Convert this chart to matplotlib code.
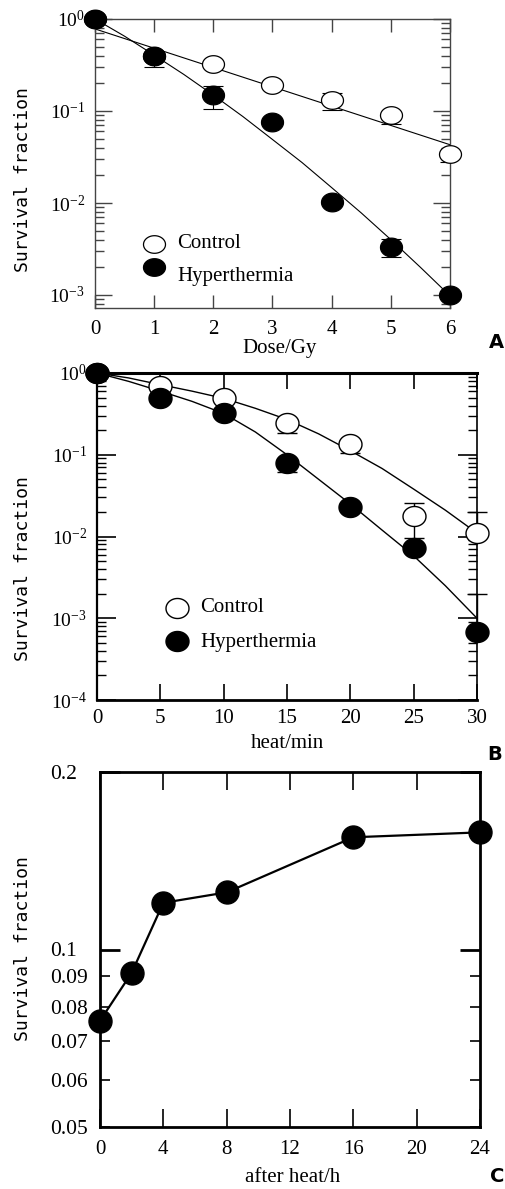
import numpy as np
import matplotlib
matplotlib.use("Agg")
import matplotlib.pyplot as plt
from matplotlib.path import Path
from matplotlib.ticker import FixedLocator, FixedFormatter, NullFormatter

# ---- panel A: dose response ----
dose = [0, 1, 2, 3, 4, 5, 6]
a_ctrl = [1.0, 0.40, 0.324, 0.19, 0.132, 0.0905, 0.034]
a_ctrl_lo = [1.0, 0.40, 0.324, 0.19, 0.102, 0.072, 0.028]
a_ctrl_hi = [1.0, 0.40, 0.324, 0.19, 0.157, 0.0905, 0.034]
a_hyp = [1.0, 0.40, 0.149, 0.076, 0.0102, 0.0033, 0.001]
a_hyp_lo = [1.0, 0.30, 0.105, 0.076, 0.0102, 0.0026, 0.001]
a_hyp_hi = [1.0, 0.40, 0.187, 0.076, 0.0102, 0.0041, 0.001]
a_ctrl_fit_x = [0, 6]
a_ctrl_fit = [0.78, 0.043]
a_hyp_fit_x = [0, 0.5, 1, 1.5, 2, 2.5, 3, 3.5, 4, 4.5, 5, 5.5, 6]
a_hyp_fit = [1.0, 0.65, 0.405, 0.25, 0.149, 0.087, 0.049, 0.0275, 0.0147,
             0.0078, 0.0040, 0.0020, 0.00098]

# ---- panel B: heat time ----
heat = [0, 5, 10, 15, 20, 25, 30]
b_ctrl = [1.0, 0.69, 0.49, 0.245, 0.135, 0.018, 0.011]
b_ctrl_lo = [1.0, 0.69, 0.49, 0.185, 0.105, 0.0096, 0.011]
b_ctrl_hi = [1.0, 0.69, 0.49, 0.245, 0.135, 0.026, 0.020]
b_hyp = [1.0, 0.50, 0.32, 0.08, 0.023, 0.0072, 0.00068]
b_hyp_lo = [1.0, 0.50, 0.32, 0.062, 0.023, 0.0072, 0.00068]
b_hyp_hi = [1.0, 0.50, 0.32, 0.08, 0.023, 0.0072, 0.002]
b_fit_x = [0, 2.5, 5, 7.5, 10, 12.5, 15, 17.5, 20, 22.5, 25, 27.5, 30]
b_ctrl_fit = [1.0, 0.87, 0.72, 0.60, 0.49, 0.37, 0.27, 0.18, 0.112, 0.068,
              0.038, 0.021, 0.011]
b_hyp_fit = [1.0, 0.79, 0.60, 0.45, 0.32, 0.19, 0.10, 0.050, 0.025, 0.012,
             0.0058, 0.0025, 0.001]

# ---- panel C: recovery after heat ----
after = [0, 2, 4, 8, 16, 24]
c_sf = [0.0757, 0.0913, 0.120, 0.125, 0.155, 0.158]

a_yticks = [1, 0.1, 0.01, 0.001]
a_ylabels = ['$\\mathregular{10^{0}}$', '$\\mathregular{10^{-1}}$',
             '$\\mathregular{10^{-2}}$', '$\\mathregular{10^{-3}}$']
b_yticks = [1, 0.1, 0.01, 0.001, 0.0001]
b_ylabels = a_ylabels + ['$\\mathregular{10^{-4}}$']
c_major = [0.1, 0.2]
c_major_labels = ['0.1', '0.2']
c_minor = [0.05, 0.06, 0.07, 0.08, 0.09]
c_minor_labels = ['0.05', '0.06', '0.07', '0.08', '0.09']

W, H = 506, 1189
plt.rcParams['font.family'] = 'Liberation Serif'
plt.rcParams['mathtext.fontset'] = 'custom'
plt.rcParams['mathtext.rm'] = 'Liberation Serif'

fig = plt.figure(figsize=(W / 100, H / 100), dpi=100)


def box(l, t, r, b):
    return [l / W, 1 - b / H, (r - l) / W, (b - t) / H]


def ellipse(aspect):
    th = np.linspace(0, 2 * np.pi, 80)
    return Path(np.column_stack([np.cos(th), aspect * np.sin(th)]))


def px(p):
    return p * 0.72


def logminors(lo, hi):
    out = []
    for e in range(lo, hi):
        for m in range(2, 10):
            out.append(m * 10.0 ** e)
    return out


def ftext(x, y, s, **kw):
    fig.text(x / W, 1 - y / H, s, **kw)


def fmarker(x, y, mk, ms, fc, mew):
    fig.lines.append(plt.Line2D([x / W], [1 - y / H], transform=fig.transFigure,
                                ls='none', marker=mk, ms=ms, mfc=fc, mec='black', mew=mew))


# ================= A =================
ax = fig.add_axes(box(95, 19, 450, 308))
ax.set_yscale('log')
ax.set_xlim(0, 6)
ax.set_ylim(10 ** (-3 - 13 / 92), 1.0)
ax.plot(a_ctrl_fit_x, a_ctrl_fit, color='black', lw=0.8, zorder=2)
ax.plot(a_hyp_fit_x, a_hyp_fit, color='black', lw=0.8, zorder=2)
ell_a = ellipse(0.8)
ax.errorbar(dose, a_ctrl,
            yerr=[np.array(a_ctrl) - np.array(a_ctrl_lo), np.array(a_ctrl_hi) - np.array(a_ctrl)],
            fmt='none', ecolor='black', elinewidth=0.8, capsize=px(10), capthick=0.8, zorder=3)
ax.errorbar(dose, a_hyp,
            yerr=[np.array(a_hyp) - np.array(a_hyp_lo), np.array(a_hyp_hi) - np.array(a_hyp)],
            fmt='none', ecolor='black', elinewidth=0.8, capsize=px(10), capthick=0.8, zorder=3)
ax.plot(dose, a_ctrl, ls='none', marker=ell_a, ms=px(22), mfc='white', mec='black',
        mew=0.9, zorder=4, clip_on=False)
ax.plot(dose, a_hyp, ls='none', marker=ellipse(0.85), ms=px(22), mfc='black', mec='black',
        mew=0.9, zorder=5, clip_on=False)
ax.set_xticks(dose)
ax.set_xticklabels([str(d) for d in dose], fontsize=15)
ax.yaxis.set_major_locator(FixedLocator(a_yticks))
ax.yaxis.set_major_formatter(FixedFormatter(a_ylabels))
ax.yaxis.set_minor_locator(FixedLocator(logminors(-4, 0)))
ax.yaxis.set_minor_formatter(NullFormatter())
for s in ax.spines.values():
    s.set_color('#444444')
    s.set_linewidth(1.0)
ax.tick_params(axis='y', which='major', direction='in', length=px(17), width=1.0,
               color='#444444', left=True, right=True, labelsize=14, pad=px(10))
ax.tick_params(axis='y', which='minor', direction='in', length=px(9), width=1.0,
               color='#444444', left=True, right=True)
ax.tick_params(axis='x', which='major', direction='in', length=px(13), width=1.0,
               color='#444444', top=True, bottom=True, pad=px(12))
fmarker(154, 244, ell_a, px(22), 'white', 0.9)
fmarker(154, 267, ell_a, px(22), 'black', 0.9)
ftext(177, 244, 'Control', fontsize=15, va='center', ha='left')
ftext(177, 276, 'Hyperthermia', fontsize=15, va='center', ha='left')
ftext(280, 348, 'Dose/Gy', fontsize=15, va='center', ha='center')
ftext(23, 180, 'Survival fraction', rotation=90, family='DejaVu Sans Mono',
      fontsize=13, va='center', ha='center')
ftext(489, 343, 'A', family='DejaVu Sans', weight='bold', fontsize=14, va='center', ha='left')

# ================= B =================
bx = fig.add_axes(box(97, 373, 477, 700))
bx.set_yscale('log')
bx.set_xlim(0, 30)
bx.set_ylim(1e-4, 1.0)
bx.plot(b_fit_x, b_ctrl_fit, color='black', lw=1.0, zorder=2)
bx.plot(b_fit_x, b_hyp_fit, color='black', lw=1.0, zorder=2)
ell_b = ellipse(0.87)
bx.errorbar(heat, b_ctrl,
            yerr=[np.array(b_ctrl) - np.array(b_ctrl_lo), np.array(b_ctrl_hi) - np.array(b_ctrl)],
            fmt='none', ecolor='black', elinewidth=1.0, capsize=px(10), capthick=1.0,
            zorder=3, clip_on=False)
bx.errorbar(heat, b_hyp,
            yerr=[np.array(b_hyp) - np.array(b_hyp_lo), np.array(b_hyp_hi) - np.array(b_hyp)],
            fmt='none', ecolor='black', elinewidth=1.0, capsize=px(10), capthick=1.0,
            zorder=3, clip_on=False)
bx.plot(heat, b_ctrl, ls='none', marker=ell_b, ms=px(23), mfc='white', mec='black',
        mew=1.0, zorder=4, clip_on=False)
bx.plot(heat, b_hyp, ls='none', marker=ell_b, ms=px(23), mfc='black', mec='black',
        mew=1.0, zorder=5, clip_on=False)
bx.set_xticks(heat)
bx.set_xticklabels([str(h) for h in heat], fontsize=15)
bx.yaxis.set_major_locator(FixedLocator(b_yticks))
bx.yaxis.set_major_formatter(FixedFormatter(b_ylabels))
bx.yaxis.set_minor_locator(FixedLocator(logminors(-4, 0)))
bx.yaxis.set_minor_formatter(NullFormatter())
bx.spines['top'].set_linewidth(2.2)
bx.spines['bottom'].set_linewidth(2.0)
bx.spines['left'].set_linewidth(1.6)
bx.spines['right'].set_linewidth(1.2)
bx.tick_params(axis='y', which='major', direction='in', length=px(19), width=1.2,
               left=True, right=True, labelsize=14, pad=px(10))
bx.tick_params(axis='y', which='minor', direction='in', length=px(9), width=1.0,
               left=True, right=True)
bx.tick_params(axis='x', which='major', direction='in', length=px(16), width=1.2,
               top=True, bottom=True, pad=px(9))
fmarker(177, 608, ell_b, px(23), 'white', 1.0)
fmarker(177, 641, ell_b, px(23), 'black', 1.0)
ftext(200, 608, 'Control', fontsize=15, va='center', ha='left')
ftext(200, 643, 'Hyperthermia', fontsize=15, va='center', ha='left')
ftext(287, 743, 'heat/min', fontsize=15, va='center', ha='center')
ftext(23, 569, 'Survival fraction', rotation=90, family='DejaVu Sans Mono',
      fontsize=13, va='center', ha='center')
ftext(487, 755, 'B', family='DejaVu Sans', weight='bold', fontsize=14, va='center', ha='left')

# ================= C =================
cx = fig.add_axes(box(100, 772, 480, 1127))
cx.set_yscale('log')
cx.set_xlim(0, 24)
cx.set_ylim(0.05, 0.2)
cx.plot(after, c_sf, color='black', lw=1.6, marker='o', ms=px(23), mfc='black',
        mec='black', zorder=4, clip_on=False)
cx.set_xticks([0, 4, 8, 12, 16, 20, 24])
cx.set_xticklabels(['0', '4', '8', '12', '16', '20', '24'], fontsize=15)
cx.yaxis.set_major_locator(FixedLocator(c_major))
cx.yaxis.set_major_formatter(FixedFormatter(c_major_labels))
cx.yaxis.set_minor_locator(FixedLocator(c_minor))
cx.yaxis.set_minor_formatter(FixedFormatter(c_minor_labels))
for s in cx.spines.values():
    s.set_linewidth(2.0)
cx.tick_params(axis='y', which='major', direction='in', length=px(20), width=2.0,
               left=True, right=True, labelsize=15.5, pad=px(50))
cx.tick_params(axis='y', which='minor', direction='in', length=px(10), width=1.2,
               left=True, right=True, labelsize=15.5, pad=px(50))
cx.tick_params(axis='x', which='major', direction='in', length=px(18), width=1.2,
               top=True, bottom=True, pad=px(13))
for lab in cx.get_yticklabels() + cx.get_yticklabels(minor=True):
    lab.set_horizontalalignment('left')
ftext(293, 1178, 'after heat/h', fontsize=15, va='center', ha='center')
ftext(23, 949, 'Survival fraction', rotation=90, family='DejaVu Sans Mono',
      fontsize=13, va='center', ha='center')
ftext(490, 1176, 'C', family='DejaVu Sans', weight='bold', fontsize=14, va='center', ha='left')

fig.savefig('out.png', dpi=100)
